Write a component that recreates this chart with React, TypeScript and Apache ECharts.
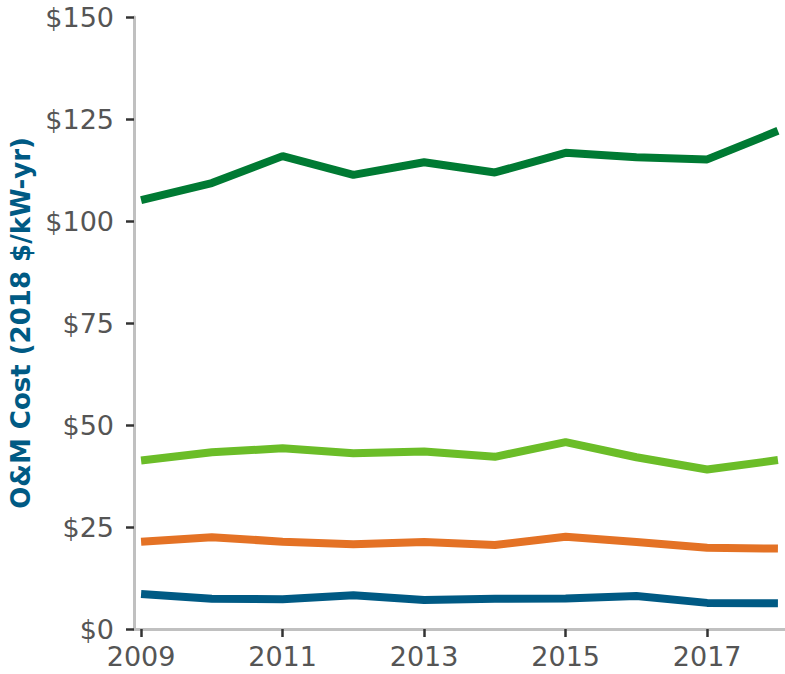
import React, { useEffect, useRef } from "react";
import * as echarts from "echarts";

const years = [2009, 2010, 2011, 2012, 2013, 2014, 2015, 2016, 2017, 2018];
const xTickYears = [2009, 2011, 2013, 2015, 2017];
const darkGreen = [105.1, 109.3, 115.9, 111.3, 114.4, 111.9, 116.7, 115.6, 115.1, 122.1];
const lightGreen = [41.3, 43.3, 44.3, 43.1, 43.5, 42.2, 45.8, 42.1, 39.1, 41.4];
const orange = [21.4, 22.5, 21.4, 20.8, 21.3, 20.6, 22.6, 21.3, 19.9, 19.7];
const blue = [8.6, 7.4, 7.3, 8.3, 7.1, 7.4, 7.5, 8.1, 6.4, 6.3];

const seriesDefs = [
  { name: "A", data: darkGreen, color: "#007a33" },
  { name: "B", data: lightGreen, color: "#6bbd28" },
  { name: "C", data: orange, color: "#e47225" },
  { name: "D", data: blue, color: "#005a84" },
];

export default function App() {
  const ref = useRef<HTMLDivElement>(null);
  useEffect(() => {
    if (!ref.current) return;
    const chart = echarts.init(ref.current, null, { renderer: "svg" });
    const labelStyle = {
      color: "#555555",
      fontFamily: "DejaVu Sans",
      fontSize: 27,
    };
    chart.setOption({
      animation: false,
      backgroundColor: "#ffffff",
      grid: { left: 133, right: 0, top: 17, bottom: 45, containLabel: false },
      xAxis: {
        type: "value",
        min: 2008.9,
        max: 2018.1,
        splitLine: { show: false },
        axisLine: { show: true, lineStyle: { color: "#c0c0c0", width: 3 } },
        axisTick: {
          show: true,
          length: 8,
          customValues: xTickYears,
          lineStyle: { color: "#333333", width: 2.5 },
        },
        axisLabel: {
          ...labelStyle,
          margin: 14,
          customValues: xTickYears,
          formatter: (v: number) => String(v),
        },
      },
      yAxis: {
        type: "value",
        min: 0,
        max: 150,
        interval: 25,
        splitLine: { show: false },
        axisLine: { show: true, lineStyle: { color: "#c0c0c0", width: 3 } },
        axisTick: { show: true, length: 8, lineStyle: { color: "#333333", width: 2.5 } },
        axisLabel: {
          ...labelStyle,
          margin: 20,
          formatter: (v: number) => "$" + v,
        },
        name: "O&M Cost (2018 $/kW-yr)",
        nameLocation: "middle",
        nameGap: 100,
        nameRotate: 90,
        nameTextStyle: {
          color: "#005a84",
          fontFamily: "DejaVu Sans",
          fontWeight: "bold",
          fontSize: 26,
        },
      },
      series: seriesDefs.map((s) => ({
        name: s.name,
        type: "line",
        data: years.map((y, i) => [y, s.data[i]]),
        showSymbol: false,
        symbol: "none",
        lineStyle: { color: s.color, width: 8 },
        itemStyle: { color: s.color },
      })),
    });
    return () => chart.dispose();
  }, []);
  return (
    <div
      ref={ref}
      style={{ position: "fixed", left: 0, top: 0, width: 785, height: 674 }}
    />
  );
}
